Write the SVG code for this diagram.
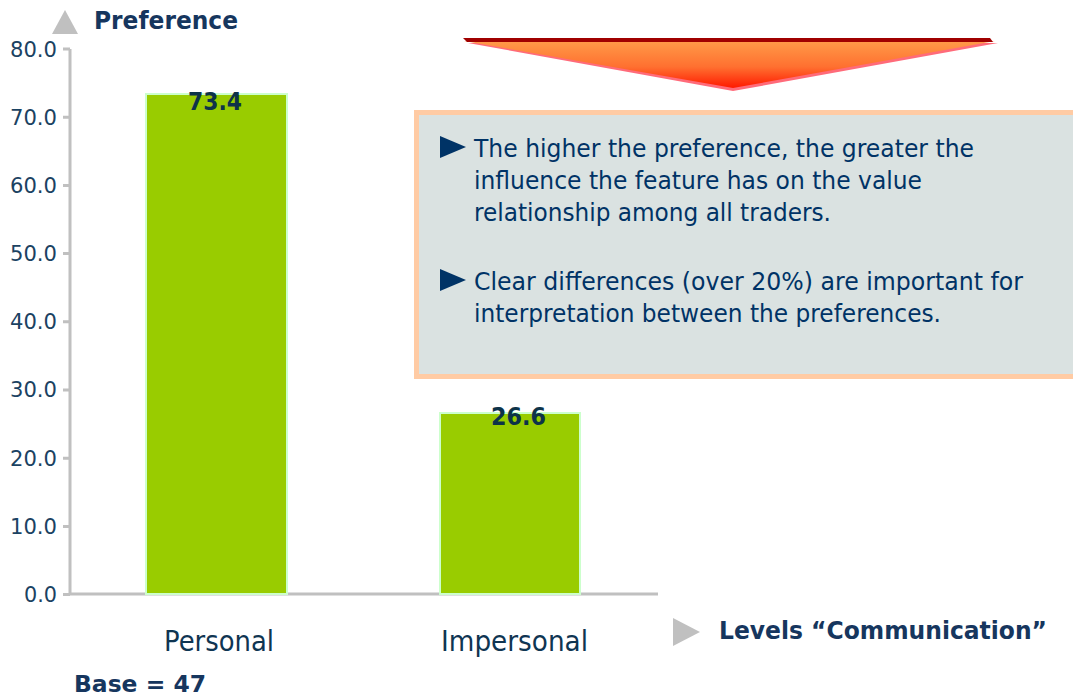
<svg xmlns="http://www.w3.org/2000/svg" width="1073" height="698" viewBox="0 0 1073 698">
<defs>
<linearGradient id="tri" x1="0" y1="0" x2="0" y2="1">
<stop offset="0" stop-color="#FF9A48"/>
<stop offset="0.55" stop-color="#FF7030"/>
<stop offset="1" stop-color="#FF1A00"/>
</linearGradient>
<style>
text{font-family:"DejaVu Sans","Liberation Sans",Arial,sans-serif}
.ax{fill:#1B4262;font-size:21px;text-anchor:end}
.cat{fill:#0F3552;font-size:28px}
.val{fill:#0D3349;font-size:24px;font-weight:bold}
.ttl{fill:#16365E;font-size:24px;font-weight:bold}
.box{fill:#003366;font-size:24px}
.bar{fill:#99CC00;stroke:#CCFFCC;stroke-width:2}
.grey{fill:#C0C0C0}
.tick{stroke:#C0C0C0;stroke-width:3;fill:none}
</style>
</defs>
<rect width="1073" height="698" fill="#FFFFFF"/>

<g id="axes">
<polygon class="grey" points="65,10 78,34 52,34"/>
<text class="ttl" x="94" y="29" textLength="144" lengthAdjust="spacingAndGlyphs">Preference</text>
<path class="tick" d="M70,49 V594 H658"/>
<path class="tick" d="M63,49 H70 M63,117.2 H70 M63,185.4 H70 M63,253.6 H70 M63,321.8 H70 M63,390 H70 M63,458.2 H70 M63,526.4 H70 M63,594.6 H70"/>
<text class="ax" x="57" y="57" textLength="47" lengthAdjust="spacingAndGlyphs">80.0</text>
<text class="ax" x="57" y="125" textLength="47" lengthAdjust="spacingAndGlyphs">70.0</text>
<text class="ax" x="57" y="193" textLength="47" lengthAdjust="spacingAndGlyphs">60.0</text>
<text class="ax" x="57" y="261" textLength="47" lengthAdjust="spacingAndGlyphs">50.0</text>
<text class="ax" x="57" y="329" textLength="47" lengthAdjust="spacingAndGlyphs">40.0</text>
<text class="ax" x="57" y="397" textLength="47" lengthAdjust="spacingAndGlyphs">30.0</text>
<text class="ax" x="57" y="466" textLength="47" lengthAdjust="spacingAndGlyphs">20.0</text>
<text class="ax" x="57" y="534" textLength="47" lengthAdjust="spacingAndGlyphs">10.0</text>
<text class="ax" x="57" y="602" textLength="33" lengthAdjust="spacingAndGlyphs">0.0</text>
<polygon class="grey" points="673,618 700,632 673,646"/>
<text class="ttl" x="719" y="639" textLength="328" lengthAdjust="spacingAndGlyphs">Levels “Communication”</text>
</g>

<g id="bar-personal">
<rect class="bar" x="146" y="94" width="141" height="500"/>
<text class="val" x="188" y="110" textLength="54" lengthAdjust="spacingAndGlyphs">73.4</text>
<text class="cat" x="164" y="651" textLength="110" lengthAdjust="spacingAndGlyphs">Personal</text>
</g>

<g id="bar-impersonal">
<rect class="bar" x="440" y="413" width="140" height="181"/>
<text class="val" x="491" y="425" textLength="55" lengthAdjust="spacingAndGlyphs">26.6</text>
<text class="cat" x="441" y="651" textLength="147" lengthAdjust="spacingAndGlyphs">Impersonal</text>
</g>

<text class="ttl" x="74" y="692" style="font-size:23px" textLength="132" lengthAdjust="spacingAndGlyphs">Base = 47</text>

<g id="arrow-down">
<polygon fill="#FF6B7A" points="468,43 998,43 733,91"/>
<polygon fill="url(#tri)" points="464,41 995,41 733,88"/>
<polygon fill="#A00000" points="463,38 990,38 993,42 467,42"/>
</g>

<g id="note-box">
<rect x="416.5" y="112.5" width="666" height="264" fill="#DAE2E1" stroke="#FFCBA4" stroke-width="5"/>
<polygon fill="#003366" points="440,136 466,147 440,158"/>
<text class="box" x="474" y="157" textLength="500" lengthAdjust="spacingAndGlyphs">The higher the preference, the greater the</text>
<text class="box" x="474" y="189" textLength="448" lengthAdjust="spacingAndGlyphs">influence the feature has on the value</text>
<text class="box" x="474" y="221" textLength="357" lengthAdjust="spacingAndGlyphs">relationship among all traders.</text>
<polygon fill="#003366" points="440,269 466,280 440,291"/>
<text class="box" x="474" y="290" textLength="549" lengthAdjust="spacingAndGlyphs">Clear differences (over 20%) are important for</text>
<text class="box" x="474" y="322" textLength="467" lengthAdjust="spacingAndGlyphs">interpretation between the preferences.</text>
</g>
</svg>
